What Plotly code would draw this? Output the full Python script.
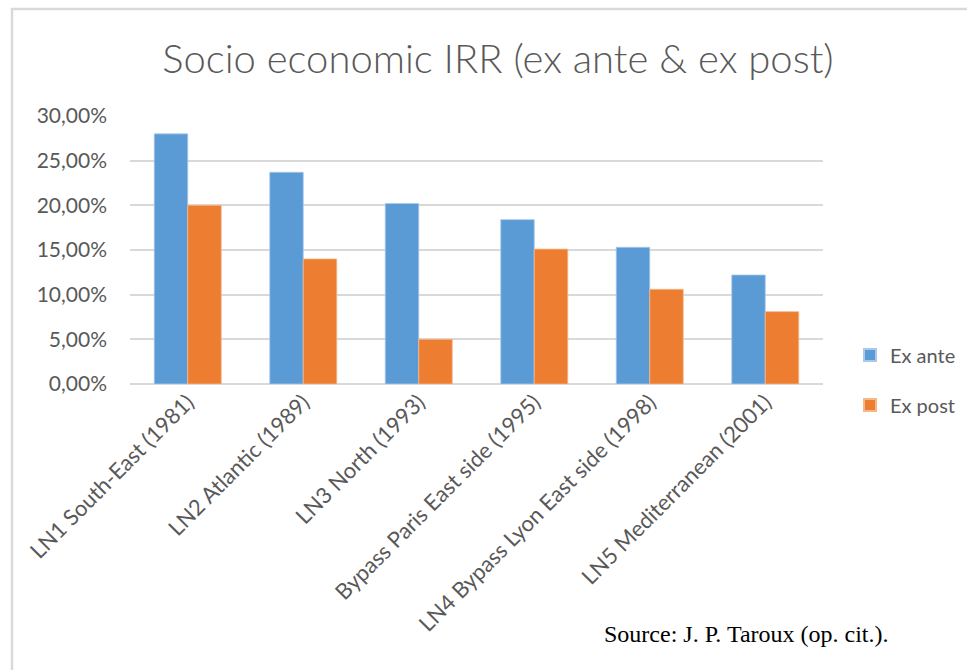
import plotly.graph_objects as go

# Socio-economic internal rate of return of French high-speed lines
projects = [
    "LN1 South-East (1981)",
    "LN2 Atlantic (1989)",
    "LN3 North (1993)",
    "Bypass Paris East side (1995)",
    "LN4 Bypass Lyon East side (1998)",
    "LN5 Mediterranean (2001)",
]
ex_ante = [0.280, 0.237, 0.202, 0.184, 0.153, 0.122]
ex_post = [0.200, 0.140, 0.050, 0.151, 0.106, 0.081]
y_ticks = [0.0, 0.05, 0.10, 0.15, 0.20, 0.25, 0.30]

BLUE = "#5B9BD5"
ORANGE = "#ED7D31"
GRAY_TXT = "#595959"
GRID = "#D9D9D9"
FONT = "Lato, 'Open Sans', sans-serif"

fig = go.Figure()
fig.add_trace(go.Bar(name="Ex ante", x=projects, y=ex_ante, legendgroup="a",
                     marker=dict(color=BLUE, line=dict(color="#A9C8EA", width=0.8))))
fig.add_trace(go.Bar(name="Ex post", x=projects, y=ex_post, legendgroup="b",
                     marker=dict(color=ORANGE, line=dict(color="#F5B889", width=0.8))))

fig.update_layout(
    width=967, height=670,
    margin=dict(l=130, r=144, t=116, b=286, autoexpand=False),
    paper_bgcolor="white", plot_bgcolor="white",
    separators=",.",
    barmode="group", bargap=0.42, bargroupgap=0.0,
    font=dict(family=FONT, color=GRAY_TXT, size=20),
    title=dict(text="Socio economic IRR (ex ante & ex post)",
               x=0.515, xanchor="center", xref="container",
               y=0.912, yanchor="middle",
               font=dict(family=FONT, size=40, color=GRAY_TXT, weight=300)),
    legend=dict(x=0.879, xanchor="left", xref="container",
                y=0.015, yanchor="middle",
                font=dict(size=20, color=GRAY_TXT), tracegroupgap=21,
                itemsizing="constant", bgcolor="rgba(0,0,0,0)"),
    xaxis=dict(tickangle=-45, showgrid=False, showline=False, ticks="",
               tickfont=dict(size=22, color=GRAY_TXT)),
    yaxis=dict(range=[0, 0.30], tickvals=y_ticks, tickformat=".2%",
               showgrid=True, gridcolor=GRID, gridwidth=1.5,
               zeroline=True, zerolinecolor=GRID, zerolinewidth=1.5,
               ticks="", ticklabelstandoff=22,
               tickfont=dict(size=21, color=GRAY_TXT)),
    shapes=[
        # outer chart frame: top and left edges (the rest runs off the page)
        dict(type="path", xref="paper", yref="paper",
             path="M %f,%f L %f,%f L %f,%f" % (
                 -118 / 693, -400 / 268,
                 -118 / 693, (384 - 9) / 268,
                 1000 / 693, (384 - 9) / 268),
             line=dict(color="#D9D9D9", width=2.5), layer="below"),
    ],
    annotations=[
        dict(text="Source: J. P. Taroux (op. cit.).", xref="paper", yref="paper",
             x=(602 - 130) / 693, y=-(634 - 384) / 268, xanchor="left", yanchor="middle",
             showarrow=False,
             font=dict(family="'Liberation Serif', 'Times New Roman', serif",
                       size=24, color="black")),
    ],
)

fig.write_html("out.html")
